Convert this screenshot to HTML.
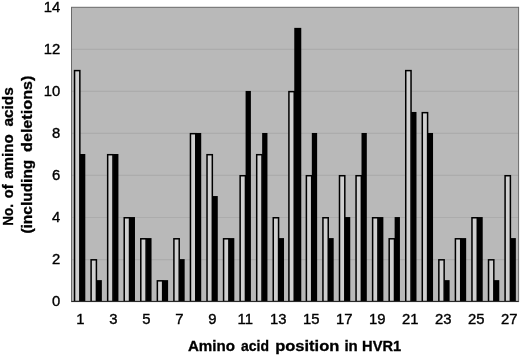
<!DOCTYPE html>
<html><head><meta charset="utf-8"><title>HVR1</title>
<style>html,body{margin:0;padding:0;background:#fff}svg{display:block}text{font-family:"Liberation Sans",Arial,sans-serif;fill:#000}.b{font-weight:bold;stroke:#000;stroke-width:.3px}.t{stroke:#000;stroke-width:.35px}</style></head><body>
<svg width="520" height="355" viewBox="0 0 520 355">
<rect width="520" height="355" fill="#fff"/>
<rect x="71.5" y="7.3" width="447.10" height="294.30" fill="#b9b9b9"/>
<line x1="71.5" x2="518.6" y1="259.56" y2="259.56" stroke="#acacac" stroke-width="1.2"/>
<line x1="71.5" x2="518.6" y1="217.51" y2="217.51" stroke="#acacac" stroke-width="1.2"/>
<line x1="71.5" x2="518.6" y1="175.47" y2="175.47" stroke="#acacac" stroke-width="1.2"/>
<line x1="71.5" x2="518.6" y1="133.43" y2="133.43" stroke="#acacac" stroke-width="1.2"/>
<line x1="71.5" x2="518.6" y1="91.39" y2="91.39" stroke="#acacac" stroke-width="1.2"/>
<line x1="71.5" x2="518.6" y1="49.34" y2="49.34" stroke="#acacac" stroke-width="1.2"/>
<defs><clipPath id="cp"><rect x="71.5" y="0" width="447.10" height="301.90"/></clipPath></defs><g clip-path="url(#cp)">
<rect x="74.55" y="70.61" width="5.3" height="230.99" fill="#cfcfcf" stroke="#000" stroke-width="1.5"/>
<rect x="80.00" y="154.00" width="5.3" height="147.60" fill="#000"/>
<rect x="91.11" y="259.81" width="5.3" height="41.79" fill="#cfcfcf" stroke="#000" stroke-width="1.5"/>
<rect x="96.56" y="280.13" width="5.3" height="21.47" fill="#000"/>
<rect x="107.67" y="154.70" width="5.3" height="146.90" fill="#cfcfcf" stroke="#000" stroke-width="1.5"/>
<rect x="113.12" y="154.00" width="5.3" height="147.60" fill="#000"/>
<rect x="124.23" y="217.76" width="5.3" height="83.84" fill="#cfcfcf" stroke="#000" stroke-width="1.5"/>
<rect x="129.68" y="217.06" width="5.3" height="84.54" fill="#000"/>
<rect x="140.79" y="238.79" width="5.3" height="62.81" fill="#cfcfcf" stroke="#000" stroke-width="1.5"/>
<rect x="146.24" y="238.09" width="5.3" height="63.51" fill="#000"/>
<rect x="157.35" y="280.83" width="5.3" height="20.77" fill="#cfcfcf" stroke="#000" stroke-width="1.5"/>
<rect x="162.80" y="280.13" width="5.3" height="21.47" fill="#000"/>
<rect x="173.91" y="238.79" width="5.3" height="62.81" fill="#cfcfcf" stroke="#000" stroke-width="1.5"/>
<rect x="179.36" y="259.11" width="5.3" height="42.49" fill="#000"/>
<rect x="190.46" y="133.68" width="5.3" height="167.92" fill="#cfcfcf" stroke="#000" stroke-width="1.5"/>
<rect x="195.91" y="132.98" width="5.3" height="168.62" fill="#000"/>
<rect x="207.02" y="154.70" width="5.3" height="146.90" fill="#cfcfcf" stroke="#000" stroke-width="1.5"/>
<rect x="212.47" y="196.04" width="5.3" height="105.56" fill="#000"/>
<rect x="223.58" y="238.79" width="5.3" height="62.81" fill="#cfcfcf" stroke="#000" stroke-width="1.5"/>
<rect x="229.03" y="238.09" width="5.3" height="63.51" fill="#000"/>
<rect x="240.14" y="175.72" width="5.3" height="125.88" fill="#cfcfcf" stroke="#000" stroke-width="1.5"/>
<rect x="245.59" y="90.94" width="5.3" height="210.66" fill="#000"/>
<rect x="256.70" y="154.70" width="5.3" height="146.90" fill="#cfcfcf" stroke="#000" stroke-width="1.5"/>
<rect x="262.15" y="132.98" width="5.3" height="168.62" fill="#000"/>
<rect x="273.26" y="217.76" width="5.3" height="83.84" fill="#cfcfcf" stroke="#000" stroke-width="1.5"/>
<rect x="278.71" y="238.09" width="5.3" height="63.51" fill="#000"/>
<rect x="288.92" y="91.64" width="5.3" height="209.96" fill="#cfcfcf" stroke="#000" stroke-width="1.5"/>
<rect x="294.27" y="27.87" width="7.0" height="273.73" fill="#000"/>
<rect x="306.38" y="175.72" width="5.3" height="125.88" fill="#cfcfcf" stroke="#000" stroke-width="1.5"/>
<rect x="311.83" y="132.98" width="5.3" height="168.62" fill="#000"/>
<rect x="322.94" y="217.76" width="5.3" height="83.84" fill="#cfcfcf" stroke="#000" stroke-width="1.5"/>
<rect x="328.39" y="238.09" width="5.3" height="63.51" fill="#000"/>
<rect x="339.50" y="175.72" width="5.3" height="125.88" fill="#cfcfcf" stroke="#000" stroke-width="1.5"/>
<rect x="344.95" y="217.06" width="5.3" height="84.54" fill="#000"/>
<rect x="356.06" y="175.72" width="5.3" height="125.88" fill="#cfcfcf" stroke="#000" stroke-width="1.5"/>
<rect x="361.51" y="132.98" width="5.3" height="168.62" fill="#000"/>
<rect x="372.62" y="217.76" width="5.3" height="83.84" fill="#cfcfcf" stroke="#000" stroke-width="1.5"/>
<rect x="378.07" y="217.06" width="5.3" height="84.54" fill="#000"/>
<rect x="389.18" y="238.79" width="5.3" height="62.81" fill="#cfcfcf" stroke="#000" stroke-width="1.5"/>
<rect x="394.63" y="217.06" width="5.3" height="84.54" fill="#000"/>
<rect x="405.74" y="70.61" width="5.3" height="230.99" fill="#cfcfcf" stroke="#000" stroke-width="1.5"/>
<rect x="411.19" y="111.96" width="5.3" height="189.64" fill="#000"/>
<rect x="422.29" y="112.66" width="5.3" height="188.94" fill="#cfcfcf" stroke="#000" stroke-width="1.5"/>
<rect x="427.74" y="132.98" width="5.3" height="168.62" fill="#000"/>
<rect x="438.85" y="259.81" width="5.3" height="41.79" fill="#cfcfcf" stroke="#000" stroke-width="1.5"/>
<rect x="444.30" y="280.13" width="5.3" height="21.47" fill="#000"/>
<rect x="455.41" y="238.79" width="5.3" height="62.81" fill="#cfcfcf" stroke="#000" stroke-width="1.5"/>
<rect x="460.86" y="238.09" width="5.3" height="63.51" fill="#000"/>
<rect x="471.97" y="217.76" width="5.3" height="83.84" fill="#cfcfcf" stroke="#000" stroke-width="1.5"/>
<rect x="477.42" y="217.06" width="5.3" height="84.54" fill="#000"/>
<rect x="488.53" y="259.81" width="5.3" height="41.79" fill="#cfcfcf" stroke="#000" stroke-width="1.5"/>
<rect x="493.98" y="280.13" width="5.3" height="21.47" fill="#000"/>
<rect x="505.09" y="175.72" width="5.3" height="125.88" fill="#cfcfcf" stroke="#000" stroke-width="1.5"/>
<rect x="510.54" y="238.09" width="5.3" height="63.51" fill="#000"/>
</g>
<rect x="71.5" y="7.3" width="447.10" height="294.30" fill="none" stroke="#6a6a6a" stroke-width="1"/>
<line x1="71.5" x2="518.6" y1="301.40000000000003" y2="301.40000000000003" stroke="#222" stroke-width="1"/>
<text transform="translate(60.3,306.10) scale(1.06,1.04)" font-size="14" class="t" text-anchor="end">0</text>
<text transform="translate(60.3,264.06) scale(1.06,1.04)" font-size="14" class="t" text-anchor="end">2</text>
<text transform="translate(60.3,222.01) scale(1.06,1.04)" font-size="14" class="t" text-anchor="end">4</text>
<text transform="translate(60.3,179.97) scale(1.06,1.04)" font-size="14" class="t" text-anchor="end">6</text>
<text transform="translate(60.3,137.93) scale(1.06,1.04)" font-size="14" class="t" text-anchor="end">8</text>
<text transform="translate(60.3,95.89) scale(1.06,1.04)" font-size="14" class="t" text-anchor="end">10</text>
<text transform="translate(60.3,53.84) scale(1.06,1.04)" font-size="14" class="t" text-anchor="end">12</text>
<text transform="translate(60.3,11.80) scale(1.06,1.04)" font-size="14" class="t" text-anchor="end">14</text>
<text transform="translate(80.40,324.2) scale(1.06,1.05)" font-size="14" class="t" text-anchor="middle">1</text>
<text transform="translate(113.38,324.2) scale(1.06,1.05)" font-size="14" class="t" text-anchor="middle">3</text>
<text transform="translate(146.36,324.2) scale(1.06,1.05)" font-size="14" class="t" text-anchor="middle">5</text>
<text transform="translate(179.34,324.2) scale(1.06,1.05)" font-size="14" class="t" text-anchor="middle">7</text>
<text transform="translate(212.32,324.2) scale(1.06,1.05)" font-size="14" class="t" text-anchor="middle">9</text>
<text transform="translate(245.30,324.2) scale(1.06,1.05)" font-size="14" class="t" text-anchor="middle">11</text>
<text transform="translate(278.28,324.2) scale(1.06,1.05)" font-size="14" class="t" text-anchor="middle">13</text>
<text transform="translate(311.26,324.2) scale(1.06,1.05)" font-size="14" class="t" text-anchor="middle">15</text>
<text transform="translate(344.24,324.2) scale(1.06,1.05)" font-size="14" class="t" text-anchor="middle">17</text>
<text transform="translate(377.22,324.2) scale(1.06,1.05)" font-size="14" class="t" text-anchor="middle">19</text>
<text transform="translate(410.20,324.2) scale(1.06,1.05)" font-size="14" class="t" text-anchor="middle">21</text>
<text transform="translate(443.18,324.2) scale(1.06,1.05)" font-size="14" class="t" text-anchor="middle">23</text>
<text transform="translate(476.16,324.2) scale(1.06,1.05)" font-size="14" class="t" text-anchor="middle">25</text>
<text transform="translate(509.14,324.2) scale(1.06,1.05)" font-size="14" class="t" text-anchor="middle">27</text>
<text class="b" x="187.9" y="350.5" font-size="14.5" textLength="47.1" lengthAdjust="spacingAndGlyphs">Amino</text>
<text class="b" x="241.0" y="350.5" font-size="14.5" textLength="27.9" lengthAdjust="spacingAndGlyphs">acid</text>
<text class="b" x="275.2" y="350.5" font-size="14.5" textLength="64.1" lengthAdjust="spacingAndGlyphs">position</text>
<text class="b" x="344.4" y="350.5" font-size="14.5" textLength="13.4" lengthAdjust="spacingAndGlyphs">in</text>
<text class="b" x="362.1" y="350.5" font-size="14.5" textLength="39.1" lengthAdjust="spacingAndGlyphs">HVR1</text>
<text class="b" transform="translate(12.9,225.8) rotate(-90)" font-size="14" textLength="21.7" lengthAdjust="spacingAndGlyphs">No.</text>
<text class="b" transform="translate(12.9,198.3) rotate(-90)" font-size="14" textLength="13.8" lengthAdjust="spacingAndGlyphs">of</text>
<text class="b" transform="translate(12.9,178.8) rotate(-90)" font-size="14" textLength="44.5" lengthAdjust="spacingAndGlyphs">amino</text>
<text class="b" transform="translate(12.9,126.6) rotate(-90)" font-size="14" textLength="39.3" lengthAdjust="spacingAndGlyphs">acids</text>
<text class="b" transform="translate(32.1,233.6) rotate(-90)" font-size="14" textLength="73.9" lengthAdjust="spacingAndGlyphs">(including</text>
<text class="b" transform="translate(32.1,152.0) rotate(-90)" font-size="14" textLength="76.4" lengthAdjust="spacingAndGlyphs">deletions)</text>
</svg></body></html>
